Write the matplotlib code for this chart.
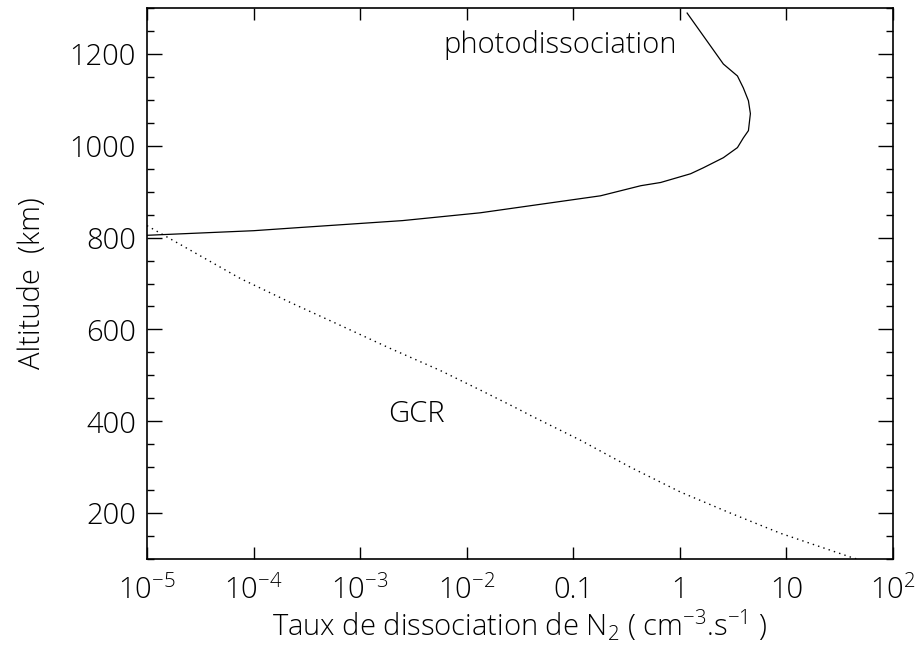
import matplotlib
matplotlib.use("Agg")
import matplotlib.pyplot as plt
from matplotlib.ticker import FixedLocator, MultipleLocator

# taux de photodissociation (cm-3 s-1) et altitude (km)
photo_rate = [1e-5, 1e-4, 2.74e-4, 2.5e-3, 1.34e-2, 0.18, 0.43, 0.66, 1.26, 1.66, 2.56, 3.47, 3.94,
              4.40, 4.59, 4.40, 3.94, 3.47, 2.56, 2.0, 1.17]
photo_alt = [805, 815, 822, 837, 854, 891, 913, 920, 939, 952, 974, 996, 1017,
             1033, 1070, 1098, 1126, 1152, 1178, 1213, 1289]

# rayons cosmiques (GCR)
gcr_rate = [1e-5, 7.5e-5, 2.2e-4, 6.5e-4, 1.9e-3, 5.6e-3, 1.34e-2, 2.85e-2, 3.94e-2, 0.116, 0.343, 1.01,
            2.98, 8.8, 42.6, 50]
gcr_alt = [826, 711, 659, 609, 559, 511, 468, 430, 413, 359, 300, 246, 200, 156, 102, 98]

xtick_vals = [1e-5, 1e-4, 1e-3, 1e-2, 0.1, 1, 10, 100]
xtick_labels = [r'$10^{-5}$', r'$10^{-4}$', r'$10^{-3}$', r'$10^{-2}$', '0.1', '1', '10', r'$10^{2}$']

plt.rcParams['font.family'] = ['Open Sans', 'DejaVu Sans']
plt.rcParams['font.weight'] = 'light'
plt.rcParams['axes.labelweight'] = 'light'
plt.rcParams['mathtext.fontset'] = 'custom'
plt.rcParams['mathtext.rm'] = 'Open Sans:light'
plt.rcParams['mathtext.default'] = 'rm'

fig = plt.figure(figsize=(9.21, 6.51), dpi=100)
ax = fig.add_axes([0.1596, 0.1413, 0.81, 0.8464])

ax.plot(photo_rate, photo_alt, color='black', linewidth=0.9)
ax.plot(gcr_rate, gcr_alt, color='black', linewidth=1.0, linestyle=(0, (1, 3)))

ax.set_xscale('log')
ax.set_xlim(1e-5, 1e2)
ax.set_ylim(100, 1300)

ax.xaxis.set_major_locator(FixedLocator(xtick_vals))
ax.xaxis.set_minor_locator(FixedLocator([]))
ax.set_xticklabels(xtick_labels)
ax.yaxis.set_major_locator(FixedLocator([200, 400, 600, 800, 1000, 1200]))
ax.yaxis.set_minor_locator(MultipleLocator(50))

ax.tick_params(axis='x', which='major', direction='in', top=True, bottom=True,
               length=8.6, width=1.0, pad=12, labelsize=21)
ax.tick_params(axis='y', which='major', direction='in', left=True, right=True,
               length=10.8, width=1.0, pad=8, labelsize=21)
ax.tick_params(axis='y', which='minor', direction='in', left=True, right=True,
               length=5, width=1.0)

for s in ax.spines.values():
    s.set_linewidth(1.2)

ax.set_xlabel(r'Taux de dissociation de N$_2$ ( cm$^{-3}$.s$^{-1}$ )', fontsize=21,
              fontweight='light', labelpad=1)
ax.set_ylabel('Altitude  (km)', fontsize=21, fontweight='light', labelpad=16)

ax.text(6.0e-3, 1202, 'photodissociation', fontsize=21, fontweight='light', ha='left', va='baseline')
ax.text(1.83e-3, 398, 'GCR', fontsize=21, fontweight='light', ha='left', va='baseline')

fig.savefig('out.png', dpi=100)
